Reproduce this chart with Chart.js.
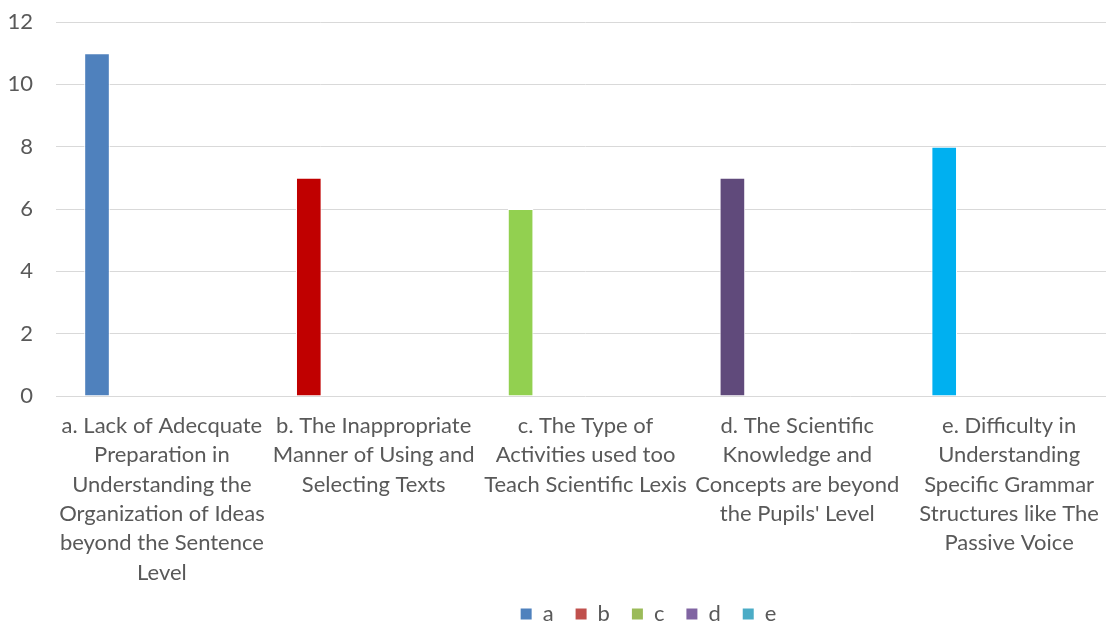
<!DOCTYPE html>
<html>
<head>
<meta charset="utf-8">
<script src="https://cdn.jsdelivr.net/npm/chart.js@4/dist/chart.umd.min.js"></script>
<style>
  html, body { margin: 0; padding: 0; background: #ffffff; overflow: hidden; }
  #frame { width: 1106px; height: 623px; overflow: hidden; position: relative; background: #ffffff; }
  canvas { display: block; }
</style>
</head>
<body>
<div id="frame"><canvas id="chart" width="1297" height="635"></canvas></div>
<script>
// Category labels, already broken into lines
const categories = [
  ["a. Lack of Adecquate", "Preparation in", "Understanding the", "Organization of Ideas", "beyond the Sentence", "Level"],
  ["b. The Inappropriate", "Manner of Using and", "Selecting Texts"],
  ["c. The Type of", "Activities used too", "Teach Scientific Lexis"],
  ["d. The Scientific", "Knowledge and", "Concepts are beyond", "the Pupils' Level"],
  ["e. Difficulty in", "Understanding", "Specific Grammar", "Structures like The", "Passive Voice"]
];

// Series names shown in the legend
const seriesNames = ["a", "b", "c", "d", "e"];

// Counts: only the first series carries values, one per category
const seriesA = [11, 7, 6, 7, 8];
const seriesB = [null, null, null, null, null];
const seriesC = [null, null, null, null, null];
const seriesD = [null, null, null, null, null];
const seriesE = [null, null, null, null, null];

// Y axis ticks
const yTicks = [0, 2, 4, 6, 8, 10, 12];

// Colours
const barColors = ["#4F81BD", "#C00000", "#92D050", "#604A7B", "#00B0F0"];
const legendColors = ["#4F81BD", "#C0504D", "#9BBB59", "#8064A2", "#4BACC6"];

const TEXT = "#595959";
const GRID = "#D9D9D9";
const FONT = { family: "Lato", size: 22, lineHeight: 1.336 };

const seriesValues = [seriesA, seriesB, seriesC, seriesD, seriesE];

const datasets = seriesValues.map((values, i) => ({
  label: seriesNames[i],
  data: values,
  backgroundColor: i === 0 ? barColors : legendColors[i],
  borderColor: "#FFFFFF",
  borderWidth: 1,
  categoryPercentage: 0.766,
  barPercentage: 0.79
}));

new Chart(document.getElementById("chart"), {
  type: "bar",
  data: { labels: categories, datasets },
  options: {
    responsive: false,
    animation: false,
    devicePixelRatio: 1,
    layout: { padding: { top: 22, left: 0, right: 0, bottom: 0 } },
    plugins: {
      tooltip: { enabled: false },
      legend: {
        position: "bottom",
        labels: {
          color: TEXT,
          font: FONT,
          boxWidth: 11,
          boxHeight: 11,
          padding: 22,
          generateLabels(chart) {
            const items = Chart.defaults.plugins.legend.labels.generateLabels(chart);
            items.forEach((item, i) => {
              item.fillStyle = legendColors[i];
              item.strokeStyle = legendColors[i];
              item.lineWidth = 0;
            });
            return items;
          }
        }
      }
    },
    scales: {
      x: {
        grid: { display: false, drawTicks: false },
        border: { display: false },
        ticks: {
          color: TEXT,
          font: FONT,
          padding: 15,
          autoSkip: false,
          maxRotation: 0,
          minRotation: 0
        },
        afterFit(scale) { scale.height = 185; }
      },
      y: {
        min: 0,
        max: 12,
        afterBuildTicks(scale) { scale.ticks = yTicks.map(v => ({ value: v })); },
        grid: { color: GRID, lineWidth: 1, drawTicks: false },
        border: { display: false },
        ticks: { color: TEXT, font: FONT, padding: 23 },
        afterFit(scale) {
          scale.width = 56;
          scale.paddingTop = 0;
          scale.paddingBottom = 0;
        }
      },
      yRight: {
        position: "right",
        grid: { display: false, drawTicks: false },
        border: { display: false },
        ticks: { display: false },
        afterFit(scale) { scale.width = 182; }
      }
    }
  }
});
</script>
</body>
</html>
